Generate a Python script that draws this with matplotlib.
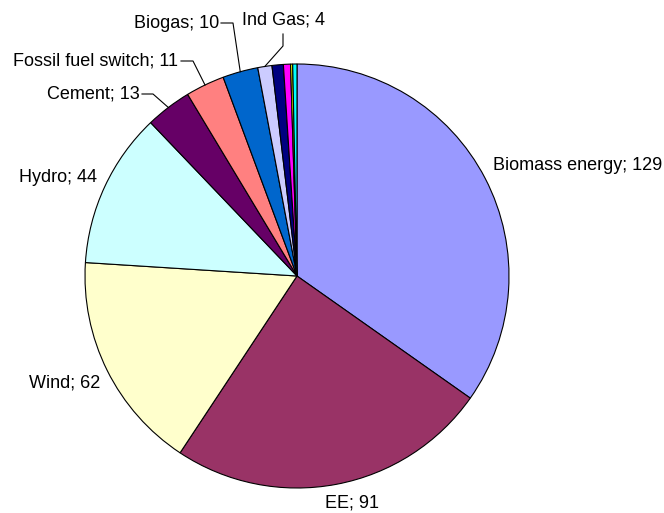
import numpy as np
import matplotlib.pyplot as plt

plt.rcParams['font.family'] = ['Liberation Sans', 'DejaVu Sans']

# sector data, clockwise from twelve o'clock
names = ['Biomass energy', 'EE', 'Wind', 'Hydro', 'Cement',
         'Fossil fuel switch', 'Biogas', 'Ind Gas', '', '', '', '']
values = [129, 91, 62, 44, 13, 11, 10, 4, 3.2, 2, 0.6, 1.2]
colors = ['#9999FF', '#993366', '#FFFFCC', '#CCFFFF', '#660066', '#FF8080',
          '#0066CC', '#CCCCFF', '#000080', '#FF00FF', '#FFFF00', '#00FFFF']

W, H = 664, 513
fig = plt.figure(figsize=(W / 100, H / 100), dpi=100)
ax = fig.add_axes([0, 0, 1, 1])

cx, cy, R = 297, H - 276, 212
wedges, _ = ax.pie(values, colors=colors, startangle=90, counterclock=False,
                   center=(cx, cy), radius=R,
                   wedgeprops=dict(edgecolor='black', linewidth=0.8))
ax.set_xlim(0, W)
ax.set_ylim(0, H)
ax.set_aspect('equal')
ax.set_axis_off()

# label placement (pixel coords, y measured from top) and leader elbows
layout = {
    'Biomass energy': dict(xy=(493, 165), ha='left'),
    'EE': dict(xy=(352, 503), ha='center'),
    'Wind': dict(xy=(100, 383), ha='right'),
    'Hydro': dict(xy=(97, 177), ha='right'),
    'Cement': dict(xy=(140, 94), ha='right', elbow=[(142, 94), (153, 94)]),
    'Fossil fuel switch': dict(xy=(178, 61), ha='right', elbow=[(181, 61), (193, 61)]),
    'Biogas': dict(xy=(219, 23), ha='right', elbow=[(221, 23), (233, 23)]),
    'Ind Gas': dict(xy=(242, 20), ha='left', elbow=[(283, 34), (283, 46)]),
}

for w, name, v in zip(wedges, names, values):
    if not name:
        continue
    opt = layout[name]
    x, y = opt['xy']
    ax.text(x, H - y, f'{name}; {v:g}', ha=opt['ha'], va='center',
            fontsize=13, color='black')
    if 'elbow' in opt:
        mid = np.deg2rad((w.theta1 + w.theta2) / 2)
        ex, ey = cx + R * np.cos(mid), cy + R * np.sin(mid)
        px = [p[0] for p in opt['elbow']] + [ex]
        py = [H - p[1] for p in opt['elbow']] + [ey]
        ax.plot(px, py, color='black', linewidth=0.8)

fig.savefig('out.png', dpi=100)
